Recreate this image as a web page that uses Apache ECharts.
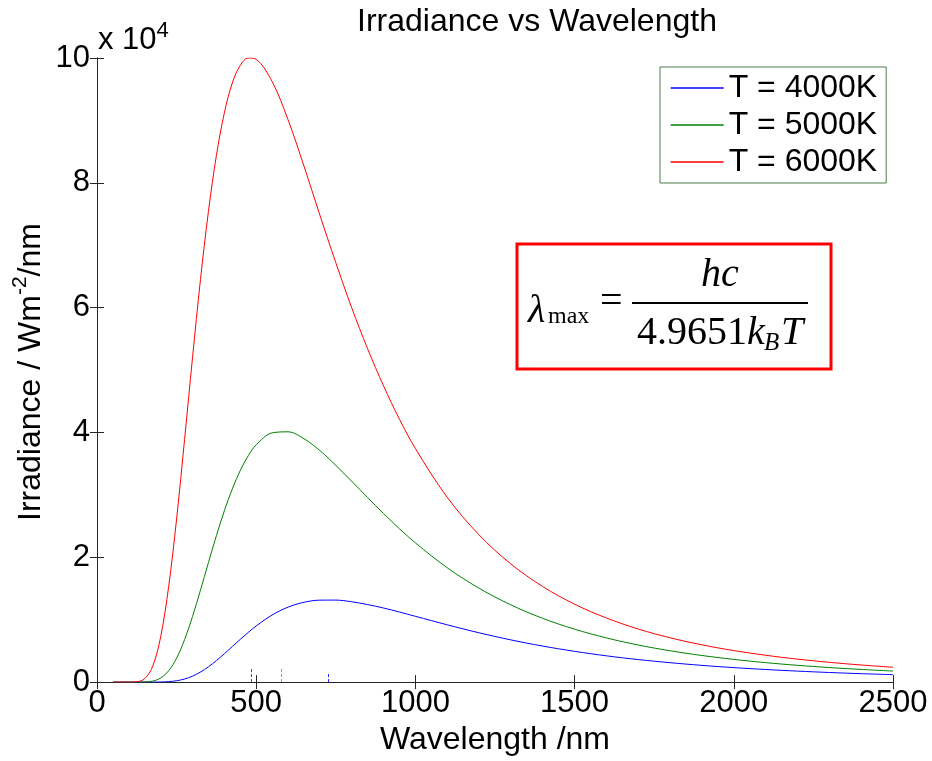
<!DOCTYPE html>
<html>
<head>
<meta charset="utf-8">
<script src="https://cdn.jsdelivr.net/npm/echarts@6/dist/echarts.min.js"></script>
<style>
html,body{margin:0;padding:0;background:#fff;}
#chart{width:932px;height:761px;}
</style>
</head>
<body>
<div id="chart"></div>
<script>
// Wavelength samples (nm)
var wavelengths = [50,100,125,150,175,200,225,250,275,300,325,350,375,400,425,450,475,500,550,600,650,700,750,800,850,900,950,1000,1100,1200,1300,1400,1500,1600,1700,1800,1900,2000,2100,2200,2300,2400,2500];
// Irradiance (W m^-2 / nm)
var irr4000 = [0,0,0,0,3,18,74,216,496,956,1611,2451,3444,4545,5697,6846,7960,8996,10750,12010,12790,13130,13140,12870,12420,11870,11220,10540,9180,7900,6760,5770,4930,4210,3610,3110,2680,2320,2020,1760,1540,1350,1190];
var irr5000 = [0,0,0,23,165,657,1813,3843,6792,10510,14740,19150,23460,27450,30960,33910,36270,38020,39930,40100,39000,37100,34730,32170,29570,27010,24570,22310,18320,15040,12370,10210,8480,7080,5940,5020,4260,3640,3120,2690,2330,2030,1770];
var irr6000 = [0,1,57,560,2550,7260,15270,26150,38860,51980,64500,75420,84380,91210,96000,98820,100000,99780,96230,90110,82690,74830,67210,59970,53410,47470,42120,37420,29610,23590,18920,15310,12480,10270,8500,7100,5970,5050,4300,3680,3170,2740,2380];
var seriesNames = ['T = 4000K','T = 5000K','T = 6000K'];
// Peak-wavelength markers (nm) and their short heights
var peakWl = [725, 580, 483];
var peakMarkH = [1300, 2100, 2400];
var yTicks = [0, 2, 4, 6, 8, 10]; // x 10^4

var colors = ['#0000ff', '#008000', '#ff0000'];
var markColors = ['#2222ff', '#33dd33', '#ff0000'];
var dataSets = [irr4000, irr5000, irr6000];
var SANS = 'Liberation Sans, Arial, sans-serif';
var SERIF = 'Liberation Serif, Times New Roman, serif';

function pairs(arr){ return wavelengths.map(function(w,i){ return [w, arr[i]]; }); }

var axisLineStyle = {color:'#262626', width:1};
var series = dataSets.map(function(d, i){
  return {
    name: seriesNames[i], type:'line', data: pairs(d), showSymbol:false, symbol:'none',
    smooth:0.35, lineStyle:{color:colors[i], width:1}, itemStyle:{color:colors[i]},
    markLine:{silent:true, symbol:['none','none'], label:{show:false},
      lineStyle:{color:markColors[i], type:[3,2], width:1},
      data:[[{coord:[peakWl[i],0]},{coord:[peakWl[i],peakMarkH[i]]}]]}
  };
});

var chart = echarts.init(document.getElementById('chart'), null, {renderer:'canvas'});
chart.setOption({
  animation:false,
  backgroundColor:'#fff',
  grid:{left:97, top:58, right:39, bottom:75, containLabel:false},
  legend:{
    orient:'vertical', left:660, top:67, padding:[5,9,5,10], itemGap:5,
    itemWidth:53, itemHeight:14, borderColor:'#4a7d4a', borderWidth:1, backgroundColor:'#fff',
    itemStyle:{opacity:0}, lineStyle:{width:1.3},
    textStyle:{fontFamily:SANS, fontSize:32, color:'#000'},
    data: seriesNames
  },
  xAxis:[
    {type:'value', min:0, max:2500, interval:500, position:'bottom',
     axisLine:{lineStyle:axisLineStyle}, axisTick:{inside:true, length:7, lineStyle:axisLineStyle},
     axisLabel:{fontFamily:SANS, fontSize:31, color:'#000', margin:6, formatter:function(v){return String(v);}},
     splitLine:{show:false},
     name:'Wavelength /nm', nameLocation:'middle', nameGap:36,
     nameTextStyle:{fontFamily:SANS, fontSize:32, color:'#000'}},
    {type:'value', min:0, max:2500, interval:500, position:'top',
     axisLine:{lineStyle:axisLineStyle}, axisTick:{inside:true, length:7, lineStyle:axisLineStyle},
     axisLabel:{show:false}, splitLine:{show:false}}
  ],
  yAxis:[
    {type:'value', min:0, max:100000, interval:20000, position:'left',
     axisLine:{show:true, lineStyle:axisLineStyle}, axisTick:{show:true, inside:true, length:7, lineStyle:axisLineStyle},
     axisLabel:{fontFamily:SANS, fontSize:31, color:'#000', margin:7,
       formatter:function(v){ return String(yTicks[Math.round(v/20000)]); }},
     splitLine:{show:false}},
    {type:'value', min:0, max:100000, interval:20000, position:'right',
     axisLine:{show:true, lineStyle:axisLineStyle}, axisTick:{show:true, inside:true, length:7, lineStyle:axisLineStyle},
     axisLabel:{show:false}, splitLine:{show:false}}
  ],
  series: series,
  graphic:[
    {type:'text', x:537, y:22, style:{text:'Irradiance vs Wavelength', font:'32px '+SANS, fill:'#000', align:'center', verticalAlign:'middle'}},
    {type:'text', x:31, y:372, rotation:Math.PI/2, style:{
      text:'{a|Irradiance / Wm}{s|-2}{a|/nm}', align:'center', verticalAlign:'middle',
      rich:{a:{fontFamily:SANS, fontSize:32, fill:'#000', color:'#000', lineHeight:42},
            s:{fontFamily:SANS, fontSize:21, fill:'#000', color:'#000', lineHeight:21, verticalAlign:'top'}}}},
    {type:'text', x:98, y:40, style:{
      text:'{a|x 10}{s|4}', align:'left', verticalAlign:'middle',
      rich:{a:{fontFamily:SANS, fontSize:31, color:'#000', lineHeight:40},
            s:{fontFamily:SANS, fontSize:22, color:'#000', lineHeight:22, verticalAlign:'top'}}}},
    {type:'rect', shape:{x:517, y:244, width:314, height:125}, style:{fill:'#fff', stroke:'#ff0000', lineWidth:3}, z:10},
    {type:'text', x:528, y:311, z:11, style:{text:'\u03bb', font:'italic 40px '+SERIF, fill:'#000', align:'left', verticalAlign:'middle'}},
    {type:'text', x:548, y:317, z:11, style:{text:'max', font:'24px '+SERIF, fill:'#000', align:'left', verticalAlign:'middle'}},
    {type:'text', x:600, y:302, z:11, style:{text:'=', font:'40px '+SERIF, fill:'#000', align:'left', verticalAlign:'middle'}},
    {type:'line', shape:{x1:632, y1:303, x2:808, y2:303}, style:{stroke:'#000', lineWidth:2}, z:11},
    {type:'text', x:720, y:275, z:11, style:{text:'hc', font:'italic 40px '+SERIF, fill:'#000', align:'center', verticalAlign:'middle'}},
    {type:'text', x:637, y:333, z:11, style:{text:'4.9651', font:'40px '+SERIF, fill:'#000', align:'left', verticalAlign:'middle'}},
    {type:'text', x:747, y:333, z:11, style:{text:'k', font:'italic 40px '+SERIF, fill:'#000', align:'left', verticalAlign:'middle'}},
    {type:'text', x:764, y:343, z:11, style:{text:'B', font:'italic 25px '+SERIF, fill:'#000', align:'left', verticalAlign:'middle'}},
    {type:'text', x:781, y:333, z:11, style:{text:'T', font:'italic 40px '+SERIF, fill:'#000', align:'left', verticalAlign:'middle'}}
  ]
});
</script>
</body>
</html>
